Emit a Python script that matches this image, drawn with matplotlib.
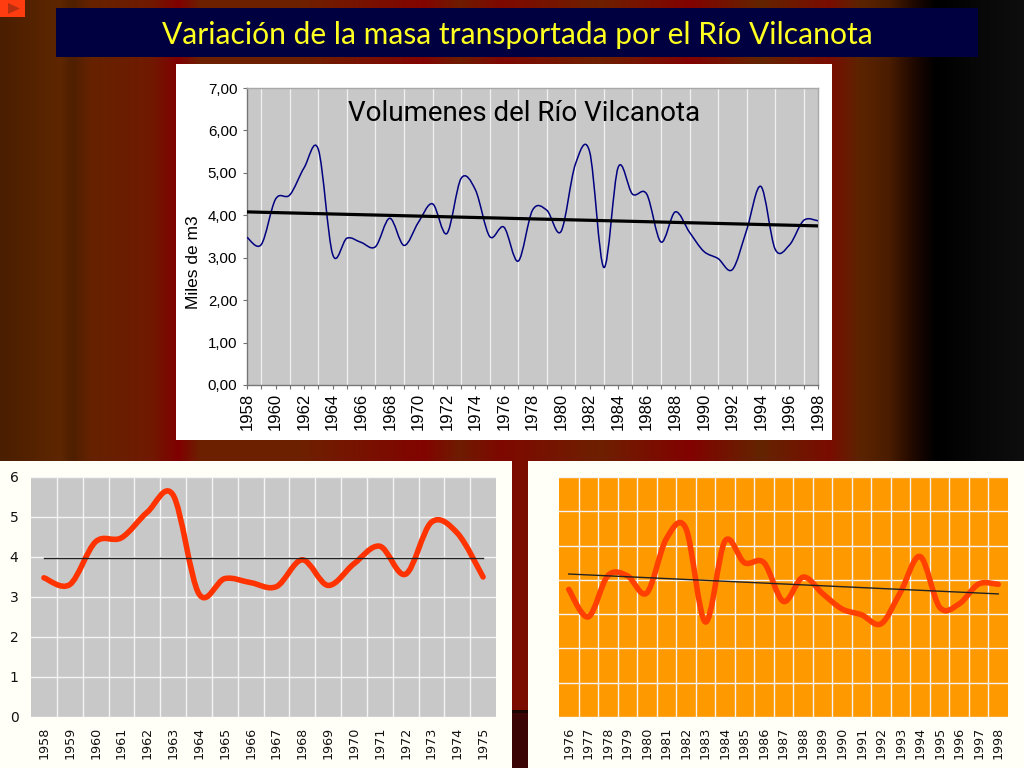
import matplotlib
matplotlib.use("Agg")
import matplotlib.pyplot as plt
import numpy as np
from matplotlib.colors import LinearSegmentedColormap
from matplotlib.patches import PathPatch, Polygon, Rectangle
from matplotlib.path import Path

W, H = 1024, 768

# Datos
years = list(range(1958, 1999))
volumes = [3.48, 3.31, 4.38, 4.48, 5.12, 5.55, 3.08, 3.46, 3.36, 3.26,
           3.93, 3.29, 3.83, 4.27, 3.57, 4.87, 4.60, 3.50, 3.72, 2.92,
           4.12, 4.12, 3.62, 5.20, 5.50, 2.77, 5.13, 4.50, 4.50, 3.37,
           4.08, 3.60, 3.15, 2.98, 2.72, 3.65, 4.68, 3.20, 3.30, 3.88, 3.87]
trend_all = [4.08, 3.75]
trend_left = [3.98, 3.98]
trend_right = [4.17, 3.59]
split = 18

# Colores del fondo (posicion en pixeles, color)
bg_stops = [(0, "#4a1e00"), (60, "#5e2600"), (72, "#4e1f00"), (90, "#652200"),
            (150, "#701a00"), (178, "#800000"), (200, "#6c2000"), (300, "#6e2000"),
            (424, "#820400"), (460, "#6e1c00"), (500, "#7e0800"), (600, "#6e2000"),
            (690, "#820200"), (760, "#642400"), (830, "#7a0c00"), (860, "#5c2400"),
            (890, "#4a1c00"), (915, "#1e0800"), (936, "#000000"), (970, "#060606"),
            (1024, "#0e0e0e")]


def box(left, top, right, bottom):
    return [left / W, 1 - bottom / H, (right - left) / W, (bottom - top) / H]


def smooth_line(ax, x, y, **kw):
    # curva suavizada como la de Excel
    x = np.array(x, dtype=float)
    y = np.array(y, dtype=float)
    verts = [(x[0], y[0])]
    codes = [Path.MOVETO]
    n = len(x)
    for i in range(n - 1):
        a = max(i - 1, 0)
        b = min(i + 2, n - 1)
        verts.append((x[i] + (x[i + 1] - x[a]) / 6, y[i] + (y[i + 1] - y[a]) / 6))
        verts.append((x[i + 1] - (x[b] - x[i]) / 6, y[i + 1] - (y[b] - y[i]) / 6))
        verts.append((x[i + 1], y[i + 1]))
        codes += [Path.CURVE4] * 3
    ax.add_patch(PathPatch(Path(verts, codes), fill=False, **kw))


def band_chart(ax, labels, values, trend, face, color, show_y):
    pos = np.arange(len(labels))
    ax.set_facecolor(face)
    ax.set_xlim(-0.5, len(labels) - 0.5)
    ax.set_ylim(0, 6 if show_y else 7)
    ax.set_xticks(pos)
    ax.set_xticklabels(labels, rotation=90, family="DejaVu Sans", fontsize=9.2, color="#111111")
    ax.set_xticks(pos[:-1] + 0.5, minor=True)
    ax.grid(True, which="minor", axis="x", color="#f4f4f4", lw=1.0)
    ax.grid(True, which="major", axis="y", color="#f4f4f4", lw=1.0)
    ax.set_axisbelow(True)
    ax.tick_params(axis="both", which="both", length=0)
    ax.tick_params(axis="x", pad=7)
    if show_y:
        ax.set_yticks(range(7))
        ax.tick_params(axis="y", labelsize=10, pad=9, labelcolor="#111111")
    else:
        ax.set_yticks(range(8))
        ax.set_yticklabels([])
    for s in ax.spines.values():
        s.set_visible(False)
    smooth_line(ax, pos, values, edgecolor=color, lw=4.0, capstyle="round", joinstyle="round", zorder=3)
    ax.plot([pos[0], pos[-1]], trend, color="#222222", lw=1.0, zorder=4)


fig = plt.figure(figsize=(W / 100, H / 100), dpi=100, facecolor="#fffff8")

# Fondo
bg = fig.add_axes([0, 0, 1, 1])
bg.set_xlim(0, W)
bg.set_ylim(H, 0)
bg.axis("off")
cmap = LinearSegmentedColormap.from_list("fondo", [(p / W, c) for p, c in bg_stops], N=1024)
bg.imshow(np.linspace(0, 1, W)[None, :], cmap=cmap, aspect="auto", extent=[0, W, H, 0], vmin=0, vmax=1)
bg.add_patch(Rectangle((512, 712), 16, 56, color="#3a0504", lw=0))
bg.add_patch(Rectangle((512, 710), 16, 3, color="#1a0404", lw=0))
bg.add_patch(Rectangle((0, 461), 512, 307, color="#fffff8", lw=0))
bg.add_patch(Rectangle((528, 461), 496, 307, color="#fffff8", lw=0))
bg.add_patch(Rectangle((176, 64), 656, 376, color="white", lw=0))
bg.add_patch(Rectangle((56, 8), 922, 49, color="#000040", lw=0))
bg.add_patch(Rectangle((0, 0), 25, 17, color="#ff3c10", lw=0))
bg.add_patch(Polygon([(8, 3), (8, 14), (20, 8.5)], color="#b83010", lw=0))
bg.text(517.5, 35, "Variación de la masa transportada por el Río Vilcanota", color="#ffff20",
        family="Lato", fontsize=21.6, ha="center", va="center")

# Grafico superior
ax = fig.add_axes(box(247, 88, 818, 385))
ax.set_facecolor("#c8c8c8")
ax.set_xlim(years[0], years[-1])
ax.set_ylim(0, 7)
ax.set_xticks(years[::2])
ax.set_xticks(years, minor=True)
ax.set_xticklabels([str(y) for y in years[::2]], rotation=90, family="Liberation Sans", fontsize=12)
ax.set_yticks(range(8))
ax.set_yticklabels(["%d,00" % v for v in range(8)], family="Liberation Sans", fontsize=10.8)
ax.grid(True, which="minor", axis="x", color="#f0f0f0", lw=0.9)
ax.set_axisbelow(True)
ax.tick_params(axis="both", which="both", color="#707070", length=3, width=0.8, pad=4)
ax.tick_params(axis="x", which="major", pad=2.5)
for name, s in ax.spines.items():
    s.set_color("#777777" if name in ("left", "bottom") else "#a8a8a8")
    s.set_linewidth(1.0)
ax.set_ylabel("Miles de m3", family="Liberation Sans", fontsize=12.5, y=0.415, labelpad=5)
ax.text(0.486, 0.913, "Volumenes del Río Vilcanota", transform=ax.transAxes, family="Roboto",
        fontsize=20, ha="center", va="center", color="#000000")
smooth_line(ax, years, volumes, edgecolor="#000080", lw=1.1, zorder=3)
ax.plot([years[0], years[-1]], trend_all, color="#000000", lw=2.3, zorder=4)

# Graficos inferiores
left = fig.add_axes(box(31, 477, 496, 717))
band_chart(left, years[:split], volumes[:split], trend_left, "#c8c8c8", "#ff3300", True)
right = fig.add_axes(box(559, 477, 1008, 717))
band_chart(right, years[split:], volumes[split:], trend_right, "#ff9900", "#ff4000", False)

fig.savefig("out.png", dpi=100, facecolor=fig.get_facecolor())
